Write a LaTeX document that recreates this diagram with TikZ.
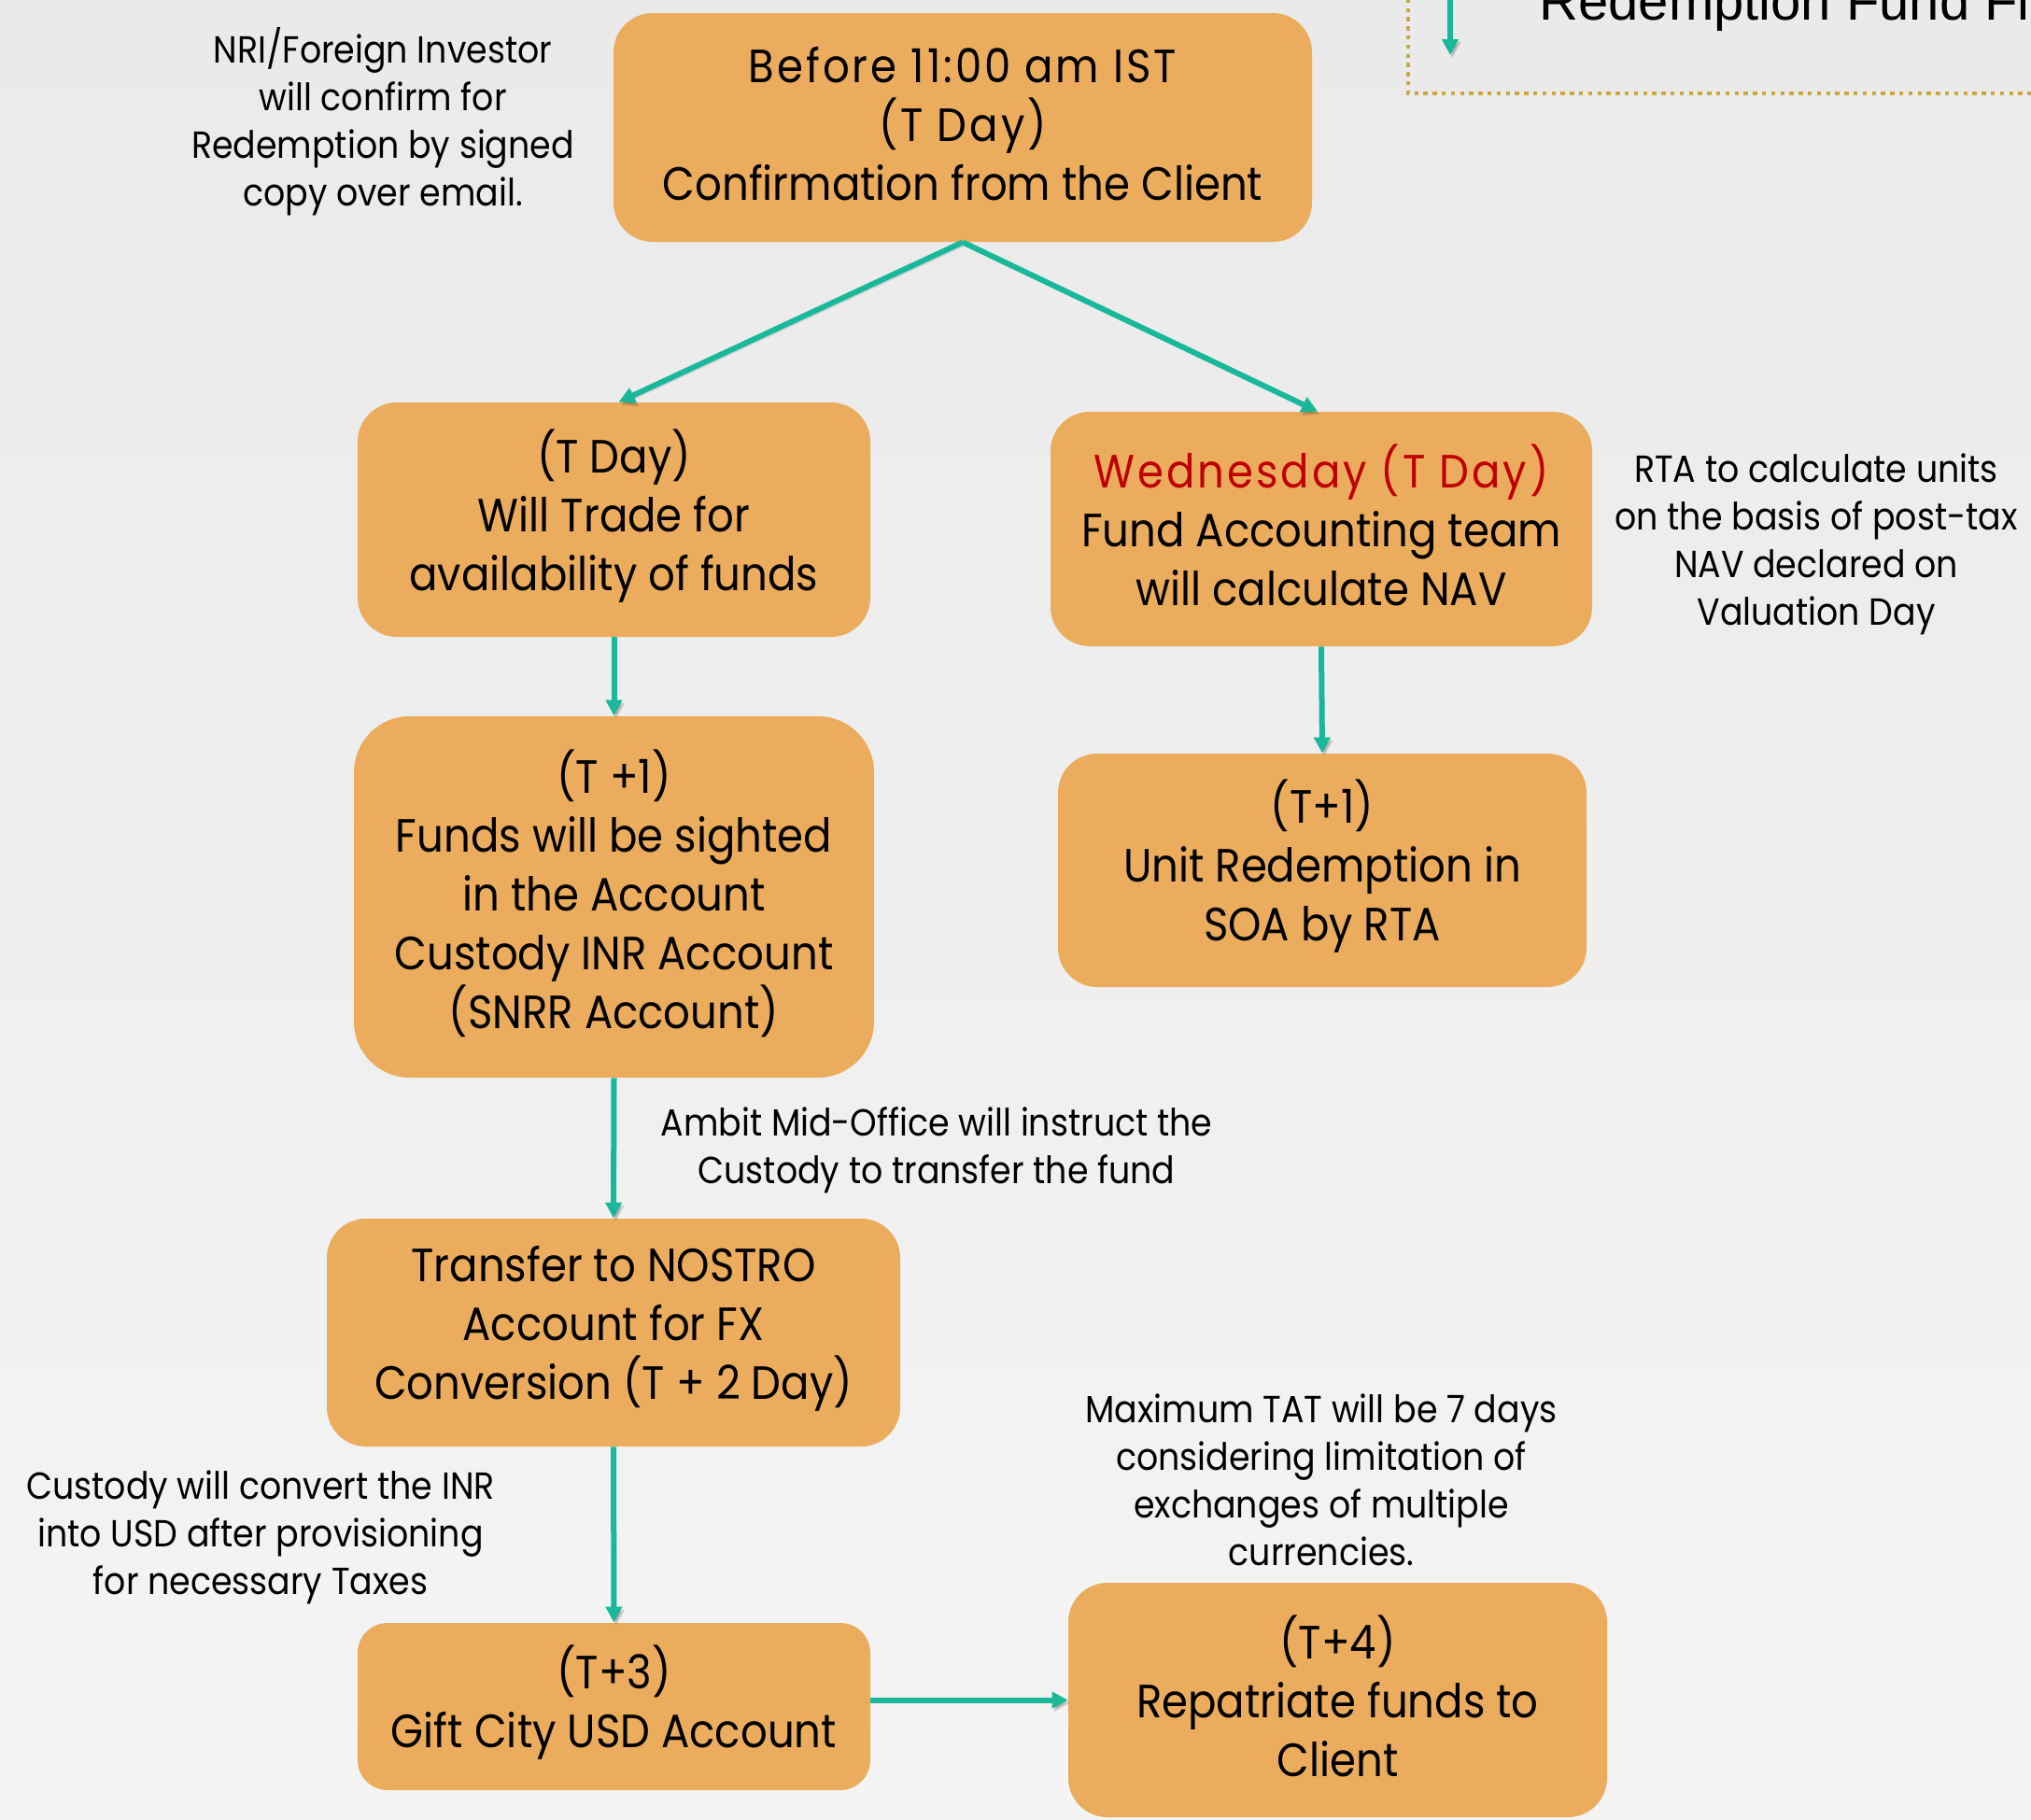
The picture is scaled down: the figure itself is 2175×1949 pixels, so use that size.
\documentclass[tikz,border=0pt]{standalone}
\usepackage{fontspec}
\setmainfont{Poppins}[FakeStretch=0.9]
\newfontfamily\titlefont{Liberation Sans}
\usetikzlibrary{arrows.meta,calc}
\definecolor{boxfill}{RGB}{235,173,93}
\definecolor{arrowteal}{RGB}{26,184,155}
\definecolor{redtxt}{RGB}{192,0,0}
\definecolor{dotgold}{RGB}{203,168,62}
\definecolor{bgtop}{RGB}{234,234,234}
\definecolor{bgbot}{RGB}{244,244,244}
\newcommand{\boxfont}{\fontsize{25pt}{31.5pt}\selectfont}
\newcommand{\notefont}{\fontsize{20.2pt}{25.5pt}\selectfont}
\newcommand{\lsp}{\addfontfeature{LetterSpace=6}}
\tikzset{
  flowbox/.style={fill=boxfill, draw=none, inner sep=0pt},
  boxtext/.style={align=center, font=\boxfont, inner sep=0pt, text=black, yshift=2pt},
  dims/.style n args={3}{minimum width=#1*0.5pt, minimum height=#2*0.5pt, rounded corners=#3*0.5pt},
  note/.style={align=center, font=\notefont, inner sep=0pt, text=black},
  arr/.style={draw=arrowteal, line width=3pt, -{Triangle[length=8.5pt,width=8.5pt]},
    preaction={draw=black, opacity=0.16, transform canvas={shift={(1.2pt,-1.6pt)}}}},
}
\begin{document}
\begin{tikzpicture}[x=0.5pt,y=-0.5pt]
\useasboundingbox (0,0) rectangle (2175,1949);
\clip (0,0) rectangle (2175,1949);
\shade[top color=bgtop, bottom color=bgbot] (0,0) rectangle (2175,1949);

% partial title frame at top right
\draw[dotgold, line width=2pt, dash pattern=on 2.2pt off 2.7pt] (1508,-60) -- (1508,100) -- (2260,100);
\node[anchor=base west, inner sep=0pt, font=\titlefont\fontsize{29pt}{34pt}\selectfont] (title) at (1648,21) {Redemption Fund Flow};
\coordinate (ts) at (1553,-10);
\coordinate (te) at (1553,59);
\draw[arr] (ts) -- (te);

% boxes
\node[flowbox, dims={748}{245}{42}, label={[boxtext]center:{{\lsp Before 11:00 am IST}\\{\lsp (T Day)}\\Confirmation from the Client}}] (A) at (1031,136.5) {};
\node[flowbox, dims={549}{251}{42}, label={[boxtext]center:{(T Day)\\Will Trade for\\availability of funds}}] (B) at (657.5,556.5) {};
\node[flowbox, dims={580}{251}{42}, label={[boxtext]center:{{\color{redtxt}\lsp Wednesday (T Day)}\\Fund Accounting team\\will calculate NAV}}] (C) at (1415,566.5) {};
\node[flowbox, dims={557}{387}{60}, label={[boxtext]center:{(T +1)\\Funds will be sighted\\in the Account\\Custody INR Account\\(SNRR Account)}}] (D) at (657.5,960.5) {};
\node[flowbox, dims={566}{250}{42}, label={[boxtext]center:{(T+1)\\Unit Redemption in\\SOA by RTA}}] (E) at (1416,932) {};
\node[flowbox, dims={614}{244}{42}, label={[boxtext]center:{Transfer to NOSTRO\\Account for FX\\Conversion (T + 2 Day)}}] (F) at (657,1427) {};
\node[flowbox, dims={549}{179}{32}, label={[boxtext]center:{(T+3)\\Gift City USD Account}}] (G) at (657.5,1827.5) {};
\node[flowbox, dims={577}{251}{42}, label={[boxtext]center:{(T+4)\\Repatriate funds to\\Client}}] (H) at (1432.5,1820.5) {};

% notes
\node[note] (n1) at (410,130) {NRI/Foreign Investor\\will confirm for\\Redemption by signed\\copy over email.};
\node[note] (n2) at (1945,583) {RTA to calculate units\\on the basis of post-tax\\NAV declared on\\Valuation Day};
\node[note] (n3) at (1003,1232) {Ambit Mid-Office will instruct the\\Custody to transfer the fund};
\node[note] (n4) at (279,1646) {Custody will convert the INR\\into USD after provisioning\\for necessary Taxes};
\node[note] (n5) at (1415,1585) {Maximum TAT will be 7 days\\considering limitation of\\exchanges of multiple\\currencies.};

% connectors
\draw[arr] (A.south) -- ($(B.north)+(5,0)$);
\draw[arr] (A.south) -- ($(C.north)+(-4,0)$);
\draw[arr] (B.south) -- (D.north);
\draw[arr] (C.south) -- (E.north);
\draw[arr] (D.south) -- (F.north);
\draw[arr] (F.south) -- (G.north);
\draw[arr] (G.east |- H.west) -- (H.west);
\end{tikzpicture}
\end{document}
